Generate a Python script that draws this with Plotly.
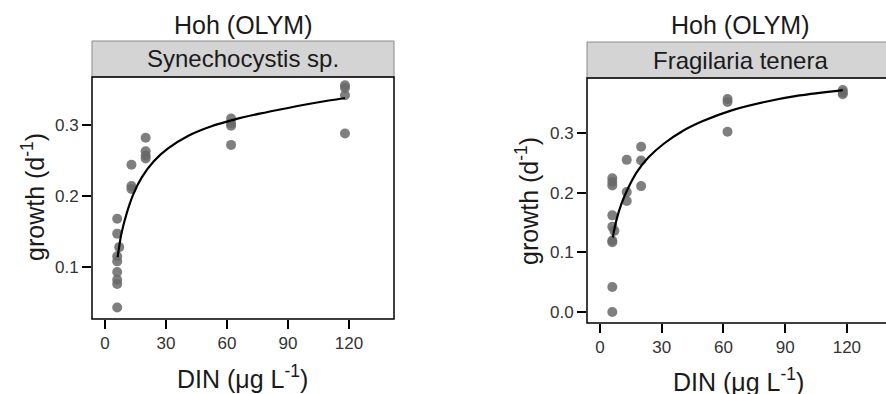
import plotly.graph_objects as go

W, H = 886, 394

# ---- data ----
syn_x = [6, 6, 7, 6, 6, 6, 6, 6, 6, 13, 13, 13, 20, 20, 20, 20, 62, 62, 62, 62, 118, 118, 118, 118]
syn_y = [0.168, 0.147, 0.128, 0.115, 0.108, 0.093, 0.082, 0.076, 0.043,
         0.244, 0.214, 0.210, 0.282, 0.263, 0.257, 0.253,
         0.309, 0.302, 0.299, 0.272, 0.356, 0.352, 0.342, 0.288]
syn_fit_x = [6.2, 8, 10.5, 14, 18, 24, 31, 41, 52, 64, 76, 90, 105, 118]
syn_fit_y = [0.114, 0.146, 0.174, 0.203, 0.226, 0.249, 0.267, 0.285, 0.298, 0.308, 0.316, 0.324, 0.332, 0.338]

fra_x = [6, 6, 6, 6, 6, 7, 6, 6, 6, 6, 13, 13, 13, 20, 20, 20, 62, 62, 62, 118, 118, 118]
fra_y = [0.224, 0.218, 0.212, 0.162, 0.143, 0.136, 0.120, 0.117, 0.042, 0.000,
         0.255, 0.201, 0.186, 0.277, 0.254, 0.211, 0.357, 0.352, 0.302, 0.372, 0.368, 0.365]
fra_fit_x = [6.2, 8, 10.5, 14, 18, 23.5, 31, 40, 50, 64, 80, 97, 118]
fra_fit_y = [0.125, 0.154, 0.182, 0.210, 0.235, 0.259, 0.282, 0.303, 0.320, 0.338, 0.352, 0.363, 0.372]

x_ticks = [0, 30, 60, 90, 120]
titles = ["Hoh (OLYM)", "Hoh (OLYM)"]
strips = ["Synechocystis sp.", "Fragilaria tenera"]

FONT = "Liberation Sans, Arial, sans-serif"
TXT = "#1a1a1a"
MARK = "rgba(105,105,105,0.85)"

# panel pixel boxes: (left, right, top, bottom, strip_top)
panels = [(92, 394, 77, 319, 41), (587, 893, 78, 323, 42)]

def px(x):
    return x / W

def py(y):
    return 1 - y / H

fig = go.Figure()

fig.add_trace(go.Scatter(x=syn_x, y=syn_y, mode="markers", xaxis="x", yaxis="y",
                         marker=dict(size=10, color=MARK), showlegend=False))
fig.add_trace(go.Scatter(x=syn_fit_x, y=syn_fit_y, mode="lines", xaxis="x", yaxis="y",
                         line=dict(color="black", width=2.2, shape="spline", smoothing=0.8),
                         showlegend=False))
fig.add_trace(go.Scatter(x=fra_x, y=fra_y, mode="markers", xaxis="x2", yaxis="y2",
                         marker=dict(size=10, color=MARK), showlegend=False))
fig.add_trace(go.Scatter(x=fra_fit_x, y=fra_fit_y, mode="lines", xaxis="x2", yaxis="y2",
                         line=dict(color="black", width=2.2, shape="spline", smoothing=0.8),
                         showlegend=False))

axis_common = dict(showgrid=False, zeroline=False, showline=False, ticks="outside",
                   ticklen=9, tickwidth=1.5, tickcolor="black", automargin=False,
                   tickfont=dict(family=FONT, size=17, color="#333333"))

L, R = panels
fig.update_layout(
    width=W, height=H, margin=dict(l=0, r=0, t=0, b=0),
    paper_bgcolor="white", plot_bgcolor="white",
    xaxis=dict(domain=[px(L[0]), px(L[1])], range=[-6.39, 142.1], tickvals=x_ticks,
               anchor="y", **axis_common),
    yaxis=dict(domain=[py(L[3]), py(L[2])], range=[0.0268, 0.3676], tickvals=[0.1, 0.2, 0.3],
               tickformat=".1f", anchor="x", **axis_common),
    xaxis2=dict(domain=[px(R[0]), 1.0], range=[-6.3, 139.0], tickvals=x_ticks,
                anchor="y2", **axis_common),
    yaxis2=dict(domain=[py(R[3]), py(R[2])], range=[-0.0184, 0.3922], tickvals=[0.0, 0.1, 0.2, 0.3],
                tickformat=".1f", anchor="x2", **axis_common),
)

shapes = []
annotations = []
for i, (l, r, t, b, st) in enumerate(panels):
    # strip
    shapes.append(dict(type="rect", xref="paper", yref="paper",
                       x0=px(l), x1=px(r), y0=py(t), y1=py(st),
                       fillcolor="#d4d4d4", line=dict(color="#8a8a8a", width=1)))
    # panel border
    shapes.append(dict(type="rect", xref="paper", yref="paper",
                       x0=px(l), x1=px(r), y0=py(b), y1=py(t),
                       line=dict(color="black", width=1.5), layer="above"))
    cx = (l + r) / 2
    annotations.append(dict(text=strips[i], xref="paper", yref="paper",
                            x=px(cx), y=py((st + t) / 2), showarrow=False,
                            xanchor="center", yanchor="middle",
                            font=dict(family=FONT, size=24, color=TXT)))
    annotations.append(dict(text=titles[i], xref="paper", yref="paper",
                            x=px(cx), y=py(25), showarrow=False,
                            xanchor="center", yanchor="middle",
                            font=dict(family=FONT, size=25, color=TXT)))

# axis titles
annotations.append(dict(text="DIN (μg L<sup>-1</sup>)", xref="paper", yref="paper",
                        x=px(242), y=py(377), showarrow=False, xanchor="center", yanchor="middle",
                        font=dict(family=FONT, size=25, color=TXT)))
annotations.append(dict(text="DIN (μg L<sup>-1</sup>)", xref="paper", yref="paper",
                        x=px(738), y=py(380), showarrow=False, xanchor="center", yanchor="middle",
                        font=dict(family=FONT, size=25, color=TXT)))
annotations.append(dict(text="growth (d<sup>-1</sup>)", xref="paper", yref="paper",
                        x=px(33), y=py(197), showarrow=False, textangle=-90,
                        xanchor="center", yanchor="middle",
                        font=dict(family=FONT, size=25, color=TXT)))
annotations.append(dict(text="growth (d<sup>-1</sup>)", xref="paper", yref="paper",
                        x=px(527), y=py(201), showarrow=False, textangle=-90,
                        xanchor="center", yanchor="middle",
                        font=dict(family=FONT, size=25, color=TXT)))

fig.update_layout(shapes=shapes, annotations=annotations)
fig.write_html("out.html")
